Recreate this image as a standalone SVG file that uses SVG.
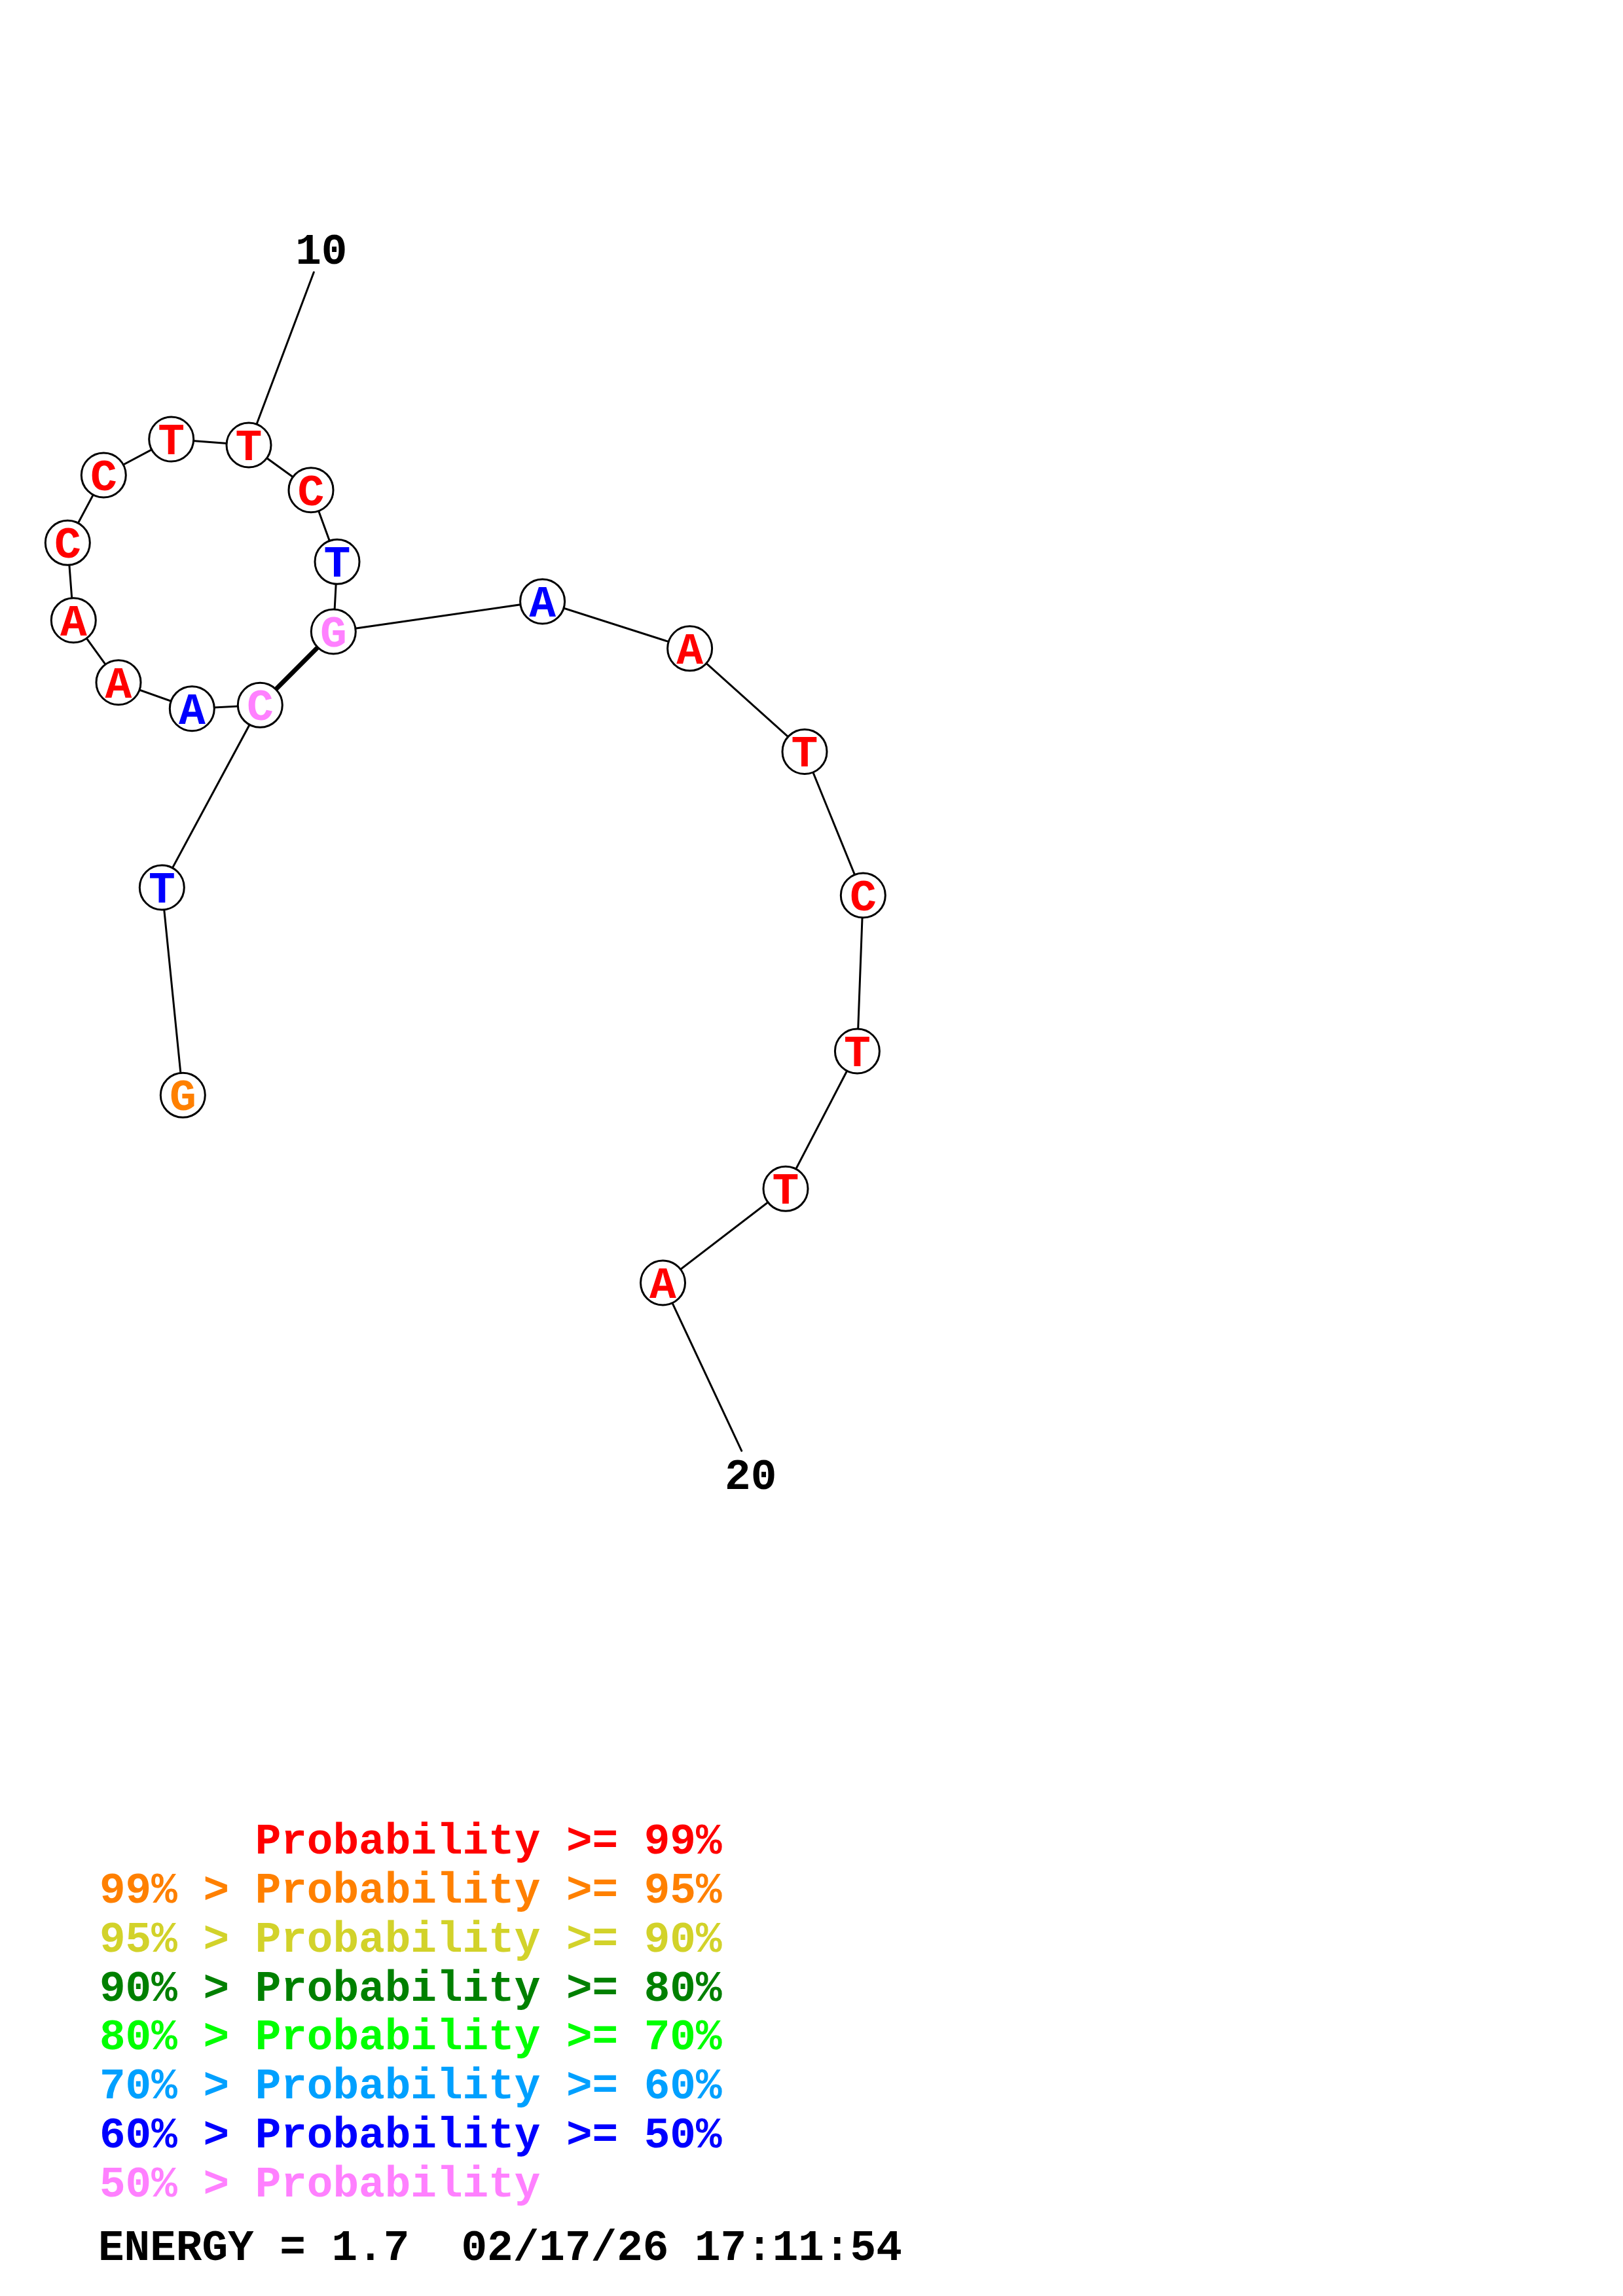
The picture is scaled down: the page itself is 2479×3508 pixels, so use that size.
<svg xmlns="http://www.w3.org/2000/svg" width="2479" height="3508" viewBox="0 0 2479 3508">
<style>
.bb{stroke:#000;stroke-width:3;fill:none;stroke-linecap:round}
.bp{stroke:#000;stroke-width:7;fill:none}
.nc{fill:#fff;stroke:#000;stroke-width:3}
.nt{font-family:"Liberation Mono","Courier New",monospace;font-weight:bold;font-size:68px;text-anchor:middle}
.lb{font-family:"Liberation Mono","Courier New",monospace;font-weight:bold;font-size:66px;fill:#000;white-space:pre}
.lg{font-family:"Liberation Mono","Courier New",monospace;font-weight:bold;font-size:66px;white-space:pre}
.r{fill:#FF0000}.o{fill:#FF8000}.y{fill:#D2D22A}.dg{fill:#008000}.g{fill:#00FF00}.lbl{fill:#00A0FF}.b{fill:#0000FF}.p{fill:#FF80FF}
</style>
<rect width="2479" height="3508" fill="#fff"/>
<g id="connectors">
<polyline class="bb" points="279.3,1673.3 247.3,1356 397.3,1077.3 293.3,1082.7 181,1042.7 112.3,947.7 103.3,829.3 158.3,726 261.7,671 380,680 475,748.7 515,858.3 509.3,965 828.6,918.9 1053.6,990.8 1229,1148.4 1318.3,1368 1309.4,1606 1200,1816.3 1012.5,1960"/>
<line class="bp" x1="397.3" y1="1077.3" x2="509.3" y2="965"/>
<line class="bb" x1="380" y1="680" x2="479.3" y2="416"/>
<line class="bb" x1="1012.5" y1="1960" x2="1132.7" y2="2216.7"/>
</g>
<g id="n1"><circle class="nc" cx="279.3" cy="1673.3" r="34"/><text class="nt o" x="279.3" y="1696">G</text></g>
<g id="n2"><circle class="nc" cx="247.3" cy="1356" r="34"/><text class="nt b" x="247.3" y="1379">T</text></g>
<g id="n3"><circle class="nc" cx="397.3" cy="1077.3" r="34"/><text class="nt p" x="397.3" y="1100">C</text></g>
<g id="n4"><circle class="nc" cx="293.3" cy="1082.7" r="34"/><text class="nt b" x="293.3" y="1105.7">A</text></g>
<g id="n5"><circle class="nc" cx="181" cy="1042.7" r="34"/><text class="nt r" x="181" y="1065.7">A</text></g>
<g id="n6"><circle class="nc" cx="112.3" cy="947.7" r="34"/><text class="nt r" x="112.3" y="970.7">A</text></g>
<g id="n7"><circle class="nc" cx="103.3" cy="829.3" r="34"/><text class="nt r" x="103.3" y="852.3">C</text></g>
<g id="n8"><circle class="nc" cx="158.3" cy="726" r="34"/><text class="nt r" x="158.3" y="749">C</text></g>
<g id="n9"><circle class="nc" cx="261.7" cy="671" r="34"/><text class="nt r" x="261.7" y="694">T</text></g>
<g id="n10"><circle class="nc" cx="380" cy="680" r="34"/><text class="nt r" x="380" y="703">T</text></g>
<g id="n11"><circle class="nc" cx="475" cy="748.7" r="34"/><text class="nt r" x="475" y="771.7">C</text></g>
<g id="n12"><circle class="nc" cx="515" cy="858.3" r="34"/><text class="nt b" x="515" y="881.3">T</text></g>
<g id="n13"><circle class="nc" cx="509.3" cy="965" r="34"/><text class="nt p" x="509.3" y="988">G</text></g>
<g id="n14"><circle class="nc" cx="828.6" cy="918.9" r="34"/><text class="nt b" x="828.6" y="941.9">A</text></g>
<g id="n15"><circle class="nc" cx="1053.6" cy="990.8" r="34"/><text class="nt r" x="1053.6" y="1013.8">A</text></g>
<g id="n16"><circle class="nc" cx="1229" cy="1148.4" r="34"/><text class="nt r" x="1229" y="1171.4">T</text></g>
<g id="n17"><circle class="nc" cx="1318.3" cy="1368" r="34"/><text class="nt r" x="1318.3" y="1391">C</text></g>
<g id="n18"><circle class="nc" cx="1309.4" cy="1606" r="34"/><text class="nt r" x="1309.4" y="1629">T</text></g>
<g id="n19"><circle class="nc" cx="1200" cy="1816.3" r="34"/><text class="nt r" x="1200" y="1839.3">T</text></g>
<g id="n20"><circle class="nc" cx="1012.5" cy="1960" r="34"/><text class="nt r" x="1012.5" y="1983">A</text></g>
<g id="labels">
<text class="lb" x="490.8" y="403" text-anchor="middle">10</text>
<text class="lb" x="1146.7" y="2275" text-anchor="middle">20</text>
</g>
<g id="legend">
<text class="lg r" x="152" y="2832" xml:space="preserve">      Probability &gt;= 99%</text>
<text class="lg o" x="152" y="2907">99% &gt; Probability &gt;= 95%</text>
<text class="lg y" x="152" y="2982">95% &gt; Probability &gt;= 90%</text>
<text class="lg dg" x="152" y="3057">90% &gt; Probability &gt;= 80%</text>
<text class="lg g" x="152" y="3131">80% &gt; Probability &gt;= 70%</text>
<text class="lg lbl" x="152" y="3206">70% &gt; Probability &gt;= 60%</text>
<text class="lg b" x="152" y="3281">60% &gt; Probability &gt;= 50%</text>
<text class="lg p" x="152" y="3356">50% &gt; Probability</text>
<text class="lb" x="150" y="3453" xml:space="preserve">ENERGY = 1.7  02/17/26 17:11:54</text>
</g>
</svg>
